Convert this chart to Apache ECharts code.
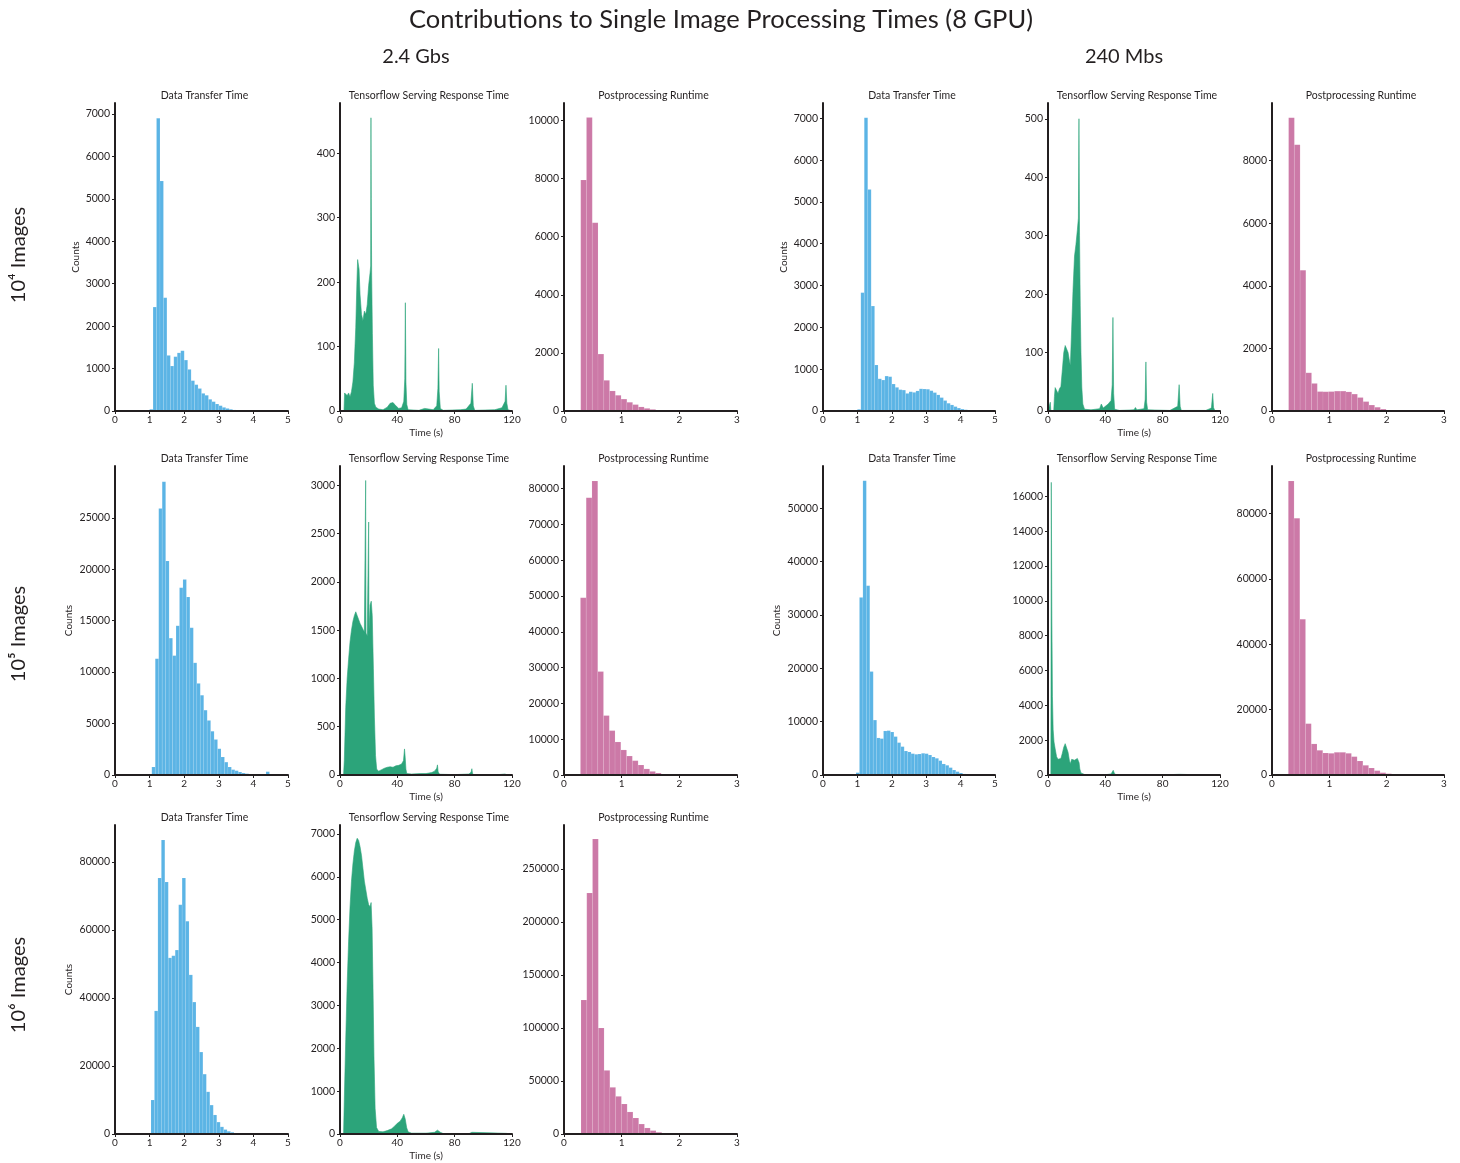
<!DOCTYPE html>
<html>
<head>
<meta charset="utf-8">
<script src="https://cdn.jsdelivr.net/npm/echarts@6/dist/echarts.min.js"></script>
<style>
  html, body { margin: 0; background: #fff; }
  #main { width: 1460px; height: 1163px; }
</style>
</head>
<body>
<div id="main"></div>
<script>
/* histogram counts (bins of 0.1 s) */
const dtt_24g_1e4 = [40, 2450, 6900, 5420, 2670, 1310, 1060, 1280, 1370, 1420, 1200, 980, 715, 620, 530, 415, 370, 275, 220, 165, 125, 85, 60, 40, 25, 15, 10, 5];
const pp_24g_1e4 = [7950, 10100, 6480, 1960, 1055, 690, 540, 410, 300, 220, 140, 90, 55, 30, 15, 8];
const dtt_240m_1e4 = [40, 2830, 7015, 5300, 2510, 1100, 770, 740, 835, 820, 645, 565, 510, 500, 420, 460, 445, 480, 530, 525, 520, 485, 440, 385, 320, 250, 185, 145, 105, 70, 45, 30, 15, 8];
const pp_240m_1e4 = [9370, 8510, 4500, 1220, 880, 620, 615, 620, 635, 635, 610, 540, 430, 300, 190, 120, 60, 30, 10];

const dtt_24g_1e5 = [780, 11300, 25900, 28500, 20800, 13300, 11600, 14500, 18200, 19000, 17300, 14300, 10900, 8900, 7750, 6300, 5300, 4250, 3450, 2550, 1750, 1250, 780, 520, 420, 290, 190, 130, 65, 40, 25, 15, 10, 320];
const pp_24g_1e5 = [49500, 77500, 82150, 28900, 16600, 12400, 9230, 7000, 5300, 4000, 2800, 1700, 1000, 550, 280, 120, 50];
const dtt_240m_1e5 = [440, 33300, 55200, 35500, 19400, 10300, 6950, 6820, 8260, 8320, 8070, 7200, 6070, 5320, 4500, 4320, 4000, 3880, 3940, 4070, 4000, 3750, 3380, 3130, 2690, 2070, 1815, 1380, 940, 625, 375, 200, 100, 50];
const pp_240m_1e5 = [89900, 78500, 47650, 15700, 9500, 7550, 6730, 6630, 6940, 6940, 6630, 5610, 4290, 2960, 2140, 1330, 710, 400, 150, 50];

const dtt_24g_1e6 = [10000, 36200, 75300, 86500, 74100, 51800, 52400, 54100, 67400, 75300, 62600, 46800, 38800, 31500, 24100, 17600, 12400, 8500, 5600, 3500, 2100, 1300, 800, 500, 300, 200, 120, 70, 40];
const pp_24g_1e6 = [126400, 227400, 278300, 100000, 60000, 44000, 35500, 28300, 20800, 15100, 9400, 5700, 3200, 1600, 700, 300];

/* first bin edge of each histogram */
const binStart = {
  dtt_24g_1e4: 1.0, pp_24g_1e4: 0.29, dtt_240m_1e4: 1.0, pp_240m_1e4: 0.29,
  dtt_24g_1e5: 1.064, pp_24g_1e5: 0.285, dtt_240m_1e5: 0.96, pp_240m_1e5: 0.285,
  dtt_24g_1e6: 1.04, pp_24g_1e6: 0.295
};
const BIN_W = 0.1;

/* tensorflow serving response time, outline of the fine histogram: [seconds, count] */
const tf_24g_1e4 = [[0, 0], [2.8, 0], [3.2, 28], [4, 30], [5, 24], [6, 28], [7, 22], [8, 30], [9, 45], [10, 75], [11, 130], [11.8, 200], [12.3, 235], [12.8, 238], [13.3, 220], [14, 180], [15, 150], [16, 140], [17, 155], [18, 150], [19, 165], [20, 195], [21, 215], [21.4, 225], [21.6, 455], [21.8, 330], [22.1, 210], [22.6, 120], [23.2, 40], [24, 12], [25, 6], [27, 3], [30, 2], [33, 6], [35, 12], [37, 13], [39, 8], [41, 4], [43, 5], [44.5, 15], [45.2, 50], [45.6, 168], [46, 45], [46.6, 10], [47.5, 2], [55, 1], [59, 4], [62, 3], [65, 2], [67.5, 8], [68.3, 35], [68.8, 97], [69.2, 30], [70, 4], [72, 1], [84, 2], [88, 3], [91.3, 12], [92.3, 43], [93, 8], [94, 1], [108, 2], [113, 5], [115.2, 15], [115.8, 40], [116.4, 12], [117.2, 2], [120, 0]];
const tf_240m_1e4 = [[0, 0], [1.2, 0], [1.6, 15], [2, 0], [4, 0], [4.5, 25], [5, 40], [6, 38], [7, 30], [8, 38], [9, 42], [10, 70], [11, 100], [12, 112], [13, 115], [14, 100], [15, 85], [15.6, 78], [16.5, 140], [17.5, 210], [18.5, 265], [19.5, 285], [20.5, 310], [21.2, 330], [21.6, 500], [22, 300], [22.5, 180], [23, 100], [23.6, 40], [24.3, 12], [25.5, 3], [30, 2], [36, 4], [37.2, 12], [38.5, 5], [40, 8], [42, 12], [44, 18], [44.8, 45], [45.3, 160], [45.8, 30], [46.5, 3], [50, 1], [60, 2], [61, 6], [62, 2], [67, 4], [67.8, 20], [68.3, 84], [68.8, 15], [69.5, 2], [85, 1], [90.5, 8], [91.5, 45], [92.2, 8], [93, 1], [110, 1], [114, 5], [114.9, 30], [115.5, 6], [116.5, 0], [120, 0]];
const tf_24g_1e5 = [[0, 0], [2.5, 0], [3, 150], [4, 700], [5, 1000], [6, 1200], [7, 1380], [8, 1500], [9, 1590], [10, 1650], [11, 1690], [12, 1650], [13, 1610], [14, 1570], [15, 1540], [16, 1510], [17, 1480], [17.7, 1470], [17.9, 3050], [18.1, 1470], [19, 1440], [19.8, 1440], [20, 2620], [20.2, 1480], [21, 1760], [21.8, 1800], [22.5, 1650], [23.3, 1100], [24, 600], [24.8, 200], [25.6, 60], [27, 40], [29, 55], [31, 70], [33, 80], [35, 85], [37, 80], [39, 95], [41, 100], [43, 115], [44.3, 150], [45, 270], [45.5, 180], [46, 60], [46.6, 15], [50, 10], [56, 15], [60, 15], [64, 25], [66, 40], [67.5, 70], [68, 105], [68.5, 30], [69.5, 8], [80, 4], [90, 10], [91.5, 30], [92, 65], [92.5, 10], [94, 2], [110, 3], [115, 10], [115.8, 20], [116.5, 3], [120, 0]];
const tf_240m_1e5 = [[0, 0], [2.0, 0], [2.3, 16800], [2.7, 9000], [3.1, 4500], [3.6, 2600], [4.2, 1900], [5, 1500], [6, 1050], [7, 900], [8, 850], [9, 950], [10, 1250], [11, 1600], [12, 1800], [13, 1750], [14, 1300], [15, 800], [15.6, 650], [16.5, 900], [17.5, 950], [18.5, 850], [19.5, 880], [20.5, 950], [21.3, 1050], [21.7, 700], [22.2, 350], [23, 120], [24, 30], [26, 10], [40, 15], [44, 60], [45.5, 270], [46.5, 60], [48, 10], [60, 10], [68, 30], [68.6, 80], [69.3, 10], [80, 5], [91.5, 40], [92.3, 5], [110, 2], [120, 0]];
const tf_24g_1e6 = [[0, 0], [2.5, 0], [3, 800], [4, 2200], [5, 3500], [6, 4500], [7, 5300], [8, 5900], [9, 6300], [10, 6600], [11, 6800], [12, 6900], [13, 6850], [14, 6700], [15, 6500], [16, 6200], [17, 5900], [18, 5700], [19, 5500], [20, 5350], [21, 5300], [21.7, 5400], [22.4, 4800], [23, 3500], [23.7, 1800], [24.5, 600], [25.5, 150], [27, 60], [30, 50], [33, 80], [36, 120], [38, 180], [40, 250], [42, 300], [43.5, 380], [44.5, 460], [45.5, 350], [46.5, 150], [47.5, 50], [50, 20], [60, 20], [66, 40], [68, 90], [69, 120], [70, 40], [72, 10], [90, 8], [92, 40], [93, 5], [116, 15], [120, 0]];

/* text */
const mainTitle = 'Contributions to Single Image Processing Times (8 GPU)';
const colHeads = ['2.4 Gbs', '240 Mbs'];
const rowHeads = ['10\u2074 Images', '10\u2075 Images', '10\u2076 Images'];
const panelTitles = { dtt: 'Data Transfer Time', tf: 'Tensorflow Serving Response Time', pp: 'Postprocessing Runtime' };

/* ── layout ───────────────────────────────────────── */
const COLS = [[115, 288], [340, 512], [564, 737], [823, 995], [1048, 1220], [1272, 1444]];
const ROWS = [[103, 411], [466, 775], [825, 1134]];
const INK = '#231f20', FONT = 'Lato, "Open Sans", sans-serif';
const COLOR = { dtt: '#5bb4e5', tf: '#2ca47a', pp: '#cc79a7' };
const XAX = { dtt: [5, 1], tf: [120, 40], pp: [3, 1] };

// r, c, kind, data, axis top, tick step, last tick, gap of "Counts"
const panels = [
  { r: 0, c: 0, kind: 'dtt', key: 'dtt_24g_1e4', data: dtt_24g_1e4, top: 7260, step: 1000, last: 7000, gap: 34 },
  { r: 0, c: 1, kind: 'tf', data: tf_24g_1e4, top: 478, step: 100, last: 400 },
  { r: 0, c: 2, kind: 'pp', key: 'pp_24g_1e4', data: pp_24g_1e4, top: 10600, step: 2000, last: 10000 },
  { r: 0, c: 3, kind: 'dtt', key: 'dtt_240m_1e4', data: dtt_240m_1e4, top: 7366, step: 1000, last: 7000, gap: 34 },
  { r: 0, c: 4, kind: 'tf', data: tf_240m_1e4, top: 527, step: 100, last: 500 },
  { r: 0, c: 5, kind: 'pp', key: 'pp_240m_1e4', data: pp_240m_1e4, top: 9840, step: 2000, last: 8000 },

  { r: 1, c: 0, kind: 'dtt', key: 'dtt_24g_1e5', data: dtt_24g_1e5, top: 30030, step: 5000, last: 25000, gap: 41 },
  { r: 1, c: 1, kind: 'tf', data: tf_24g_1e5, top: 3200, step: 500, last: 3000 },
  { r: 1, c: 2, kind: 'pp', key: 'pp_24g_1e5', data: pp_24g_1e5, top: 86340, step: 10000, last: 80000 },
  { r: 1, c: 3, kind: 'dtt', key: 'dtt_240m_1e5', data: dtt_240m_1e5, top: 57950, step: 10000, last: 50000, gap: 41 },
  { r: 1, c: 4, kind: 'tf', data: tf_240m_1e5, top: 17740, step: 2000, last: 16000 },
  { r: 1, c: 5, kind: 'pp', key: 'pp_240m_1e5', data: pp_240m_1e5, top: 94490, step: 20000, last: 80000 },

  { r: 2, c: 0, kind: 'dtt', key: 'dtt_24g_1e6', data: dtt_24g_1e6, top: 90880, step: 20000, last: 80000, gap: 41 },
  { r: 2, c: 1, kind: 'tf', data: tf_24g_1e6, top: 7210, step: 1000, last: 7000 },
  { r: 2, c: 2, kind: 'pp', key: 'pp_24g_1e6', data: pp_24g_1e6, top: 291500, step: 50000, last: 250000 }
];

const range = (a, b, s) => { const o = []; for (let v = a; v <= b + 1e-9; v += s) o.push(+v.toFixed(6)); return o; };

function histRect(color) {
  return (params, api) => {
    const p0 = api.coord([api.value(0), api.value(2)]);
    const p1 = api.coord([api.value(1), 0]);
    return {
      type: 'rect',
      shape: { x: p0[0], y: p0[1], width: p1[0] - p0[0], height: p1[1] - p0[1] },
      style: { fill: color, stroke: 'rgba(255,255,255,0.18)', lineWidth: 0.5 }
    };
  };
}

const grid = [], xAxis = [], yAxis = [], series = [], graphic = [];
const tickStyle = { color: INK, fontSize: 10, fontFamily: FONT };
const plain = (v) => String(v);

function txt(x, y, text, size, rot) {
  return {
    type: 'text', x, y, rotation: rot || 0, silent: true,
    style: { text, fill: INK, fontSize: size, fontFamily: FONT, align: 'center', verticalAlign: 'middle', textAlign: 'center', textVerticalAlign: 'middle' }
  };
}

panels.forEach((p, i) => {
  const [x0, x1] = COLS[p.c], [y0, y1] = ROWS[p.r];
  grid.push({ left: x0, top: y0, width: x1 - x0, height: y1 - y0, outerBoundsMode: 'none' });
  const [xm, xs] = XAX[p.kind];
  xAxis.push({
    gridIndex: i, type: 'value', min: 0, max: xm, interval: xs, z: 5,
    name: p.kind === 'tf' ? 'Time (s)' : '', nameLocation: 'middle', nameGap: 17,
    nameTextStyle: tickStyle,
    axisLine: { lineStyle: { color: INK, width: 2 } },
    axisTick: { length: 3, lineStyle: { color: INK, width: 1 } },
    axisLabel: { ...tickStyle, margin: 4, formatter: plain },
    splitLine: { show: false }
  });
  const ticks = range(0, p.last, p.step);
  yAxis.push({
    gridIndex: i, type: 'value', min: 0, max: p.top, z: 5,
    name: p.kind === 'dtt' ? 'Counts' : '', nameLocation: 'middle', nameRotate: 90, nameGap: p.gap || 30,
    nameTextStyle: tickStyle,
    axisLine: { show: true, lineStyle: { color: INK, width: 2 } },
    axisTick: { show: true, length: 3, customValues: ticks, lineStyle: { color: INK, width: 1 } },
    axisLabel: { ...tickStyle, fontSize: 10.5, margin: 5, customValues: ticks, formatter: plain },
    splitLine: { show: false }
  });

  if (p.kind === 'tf') {
    series.push({
      type: 'line', xAxisIndex: i, yAxisIndex: i, data: p.data,
      showSymbol: false, symbol: 'none', silent: true, z: 2,
      lineStyle: { color: COLOR.tf, width: 0.6 },
      areaStyle: { color: COLOR.tf, opacity: 1 }
    });
  } else {
    const s = binStart[p.key];
    series.push({
      type: 'custom', xAxisIndex: i, yAxisIndex: i, silent: true, z: 2,
      renderItem: histRect(COLOR[p.kind]),
      encode: { x: [0, 1], y: 2 },
      data: p.data.map((v, k) => [s + k * BIN_W, s + (k + 1) * BIN_W, v])
    });
  }

  graphic.push(txt((x0 + x1) / 2 + 3, y0 - 7, panelTitles[p.kind], 10.5));
});

graphic.push(txt(721, 20, mainTitle, 25.5));
graphic.push(txt(416, 57, colHeads[0], 20));
graphic.push(txt(1124, 57, colHeads[1], 20));
[255, 634, 985].forEach((y, k) => graphic.push(txt(19, y, rowHeads[k], 20, Math.PI / 2)));

const chart = echarts.init(document.getElementById('main'), null, { renderer: 'canvas' });
chart.setOption({
  animation: false,
  backgroundColor: '#ffffff',
  textStyle: { fontFamily: FONT },
  grid, xAxis, yAxis, series, graphic
});
</script>
</body>
</html>
